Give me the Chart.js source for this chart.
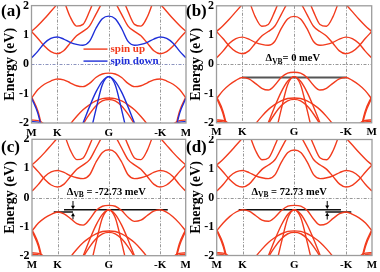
<!DOCTYPE html>
<html><head><meta charset="utf-8">
<script src="https://cdn.jsdelivr.net/npm/chart.js@4"></script>
<style>
html,body{margin:0;padding:0;background:#fff;}
#wrap{position:relative;width:380px;height:272px;overflow:hidden;background:#fff;}
.panel{position:absolute;width:190px;height:136px;}
.lbl{position:absolute;font:bold 17px "Liberation Serif",serif;line-height:17px;color:#000;}
</style></head><body>
<div id="wrap">
<div class="panel" style="left:0;top:0"><canvas id="ca" width="190" height="136"></canvas></div>
<div class="panel" style="left:190px;top:0"><canvas id="cb" width="190" height="136"></canvas></div>
<div class="panel" style="left:0;top:136px"><canvas id="cc" width="190" height="136"></canvas></div>
<div class="panel" style="left:190px;top:136px"><canvas id="cd" width="190" height="136"></canvas></div>
<div class="lbl" style="left:1px;top:2px">(a)</div>
<div class="lbl" style="left:186px;top:2px">(b)</div>
<div class="lbl" style="left:1px;top:138px">(c)</div>
<div class="lbl" style="left:186px;top:138px">(d)</div>
</div>
<script>
const _ = null;
// k-path positions (M=0, K=1, G=3, -K=5, M=6)
const kGrid = [0,0.25,0.5,0.75,1,1.25,1.5,1.75,2,2.25,2.5,2.75,3,3.25,3.5,3.75,4,4.25,4.5,4.75,5,5.25,5.5,5.75,6];
const kTicks = [0,1,3,5,6];
const kLabels = ['M','K','G','-K','M'];
const eTicks = [2,1,0,-1,-2];
const eLabels = ['2','1','0','-1','-2'];

// conduction bands (eV)
const cbA = [0.22,0.45,0.72,0.88,0.93,0.86,0.75,0.68,0.65,0.78,1.22,1.55,1.64,1.55,1.22,0.78,0.65,0.68,0.75,0.86,0.93,0.88,0.72,0.45,0.22];
const cbB = [1.12,0.88,0.62,0.43,0.36,0.46,0.72,0.97,1.12,1.30,1.70,2.10,2.35,2.10,1.70,1.30,1.12,0.97,0.72,0.46,0.36,0.43,0.62,0.88,1.12];
const cbC = [_,_,_,_,_,2.20,1.62,1.30,1.36,1.80,2.35,_,_,_,2.35,1.80,1.36,1.30,1.62,2.20,_,_,_,_,_];
const cbD = [1.12,1.32,1.55,1.80,2.05,2.30,_,_,_,_,_,_,_,_,_,_,_,_,_,2.30,2.05,1.80,1.55,1.32,1.12];

// top valence band per panel
const vb1a = [-1.15,-0.86,-0.68,-0.57,-0.50,-0.53,-0.63,-0.73,-0.76,-0.65,-0.45,-0.33,-0.30,-0.33,-0.45,-0.65,-0.76,-0.73,-0.63,-0.53,-0.50,-0.57,-0.68,-0.86,-1.15];
const vb1b = [-1.18,-0.90,-0.70,-0.55,-0.45,-0.50,-0.65,-0.82,-0.88,-0.72,-0.45,-0.30,-0.27,-0.30,-0.45,-0.72,-0.88,-0.82,-0.65,-0.50,-0.45,-0.55,-0.70,-0.90,-1.18];
const vb1c = [-1.15,-0.88,-0.70,-0.58,-0.50,-0.56,-0.72,-0.90,-0.95,-0.75,-0.45,-0.30,-0.27,-0.30,-0.45,-0.68,-0.82,-0.78,-0.62,-0.47,-0.42,-0.50,-0.66,-0.88,-1.15];
const vb1d = [-1.15,-0.88,-0.66,-0.50,-0.42,-0.47,-0.62,-0.78,-0.82,-0.68,-0.45,-0.30,-0.27,-0.30,-0.45,-0.75,-0.95,-0.90,-0.72,-0.56,-0.50,-0.58,-0.70,-0.88,-1.15];

// deeper valence bands
const vb2 = [_,_,_,_,_,_,_,_,_,-2.50,-1.55,-0.70,-0.42,-0.70,-1.55,-2.50,_,_,_,_,_,_,_,_,_];
const vb3 = [_,_,_,_,_,_,_,-2.50,-2.00,-1.45,-0.95,-0.58,-0.42,-0.58,-0.95,-1.45,-2.00,-2.50,_,_,_,_,_,_,_];
const vb4 = [_,_,_,_,_,-2.40,-2.05,-1.78,-1.55,-1.38,-1.25,-1.17,-1.15,-1.17,-1.25,-1.38,-1.55,-1.78,-2.05,-2.40,_,_,_,_,_];
const vb5 = [_,_,_,_,_,_,_,-2.50,-2.05,-1.70,-1.42,-1.25,-1.20,-1.25,-1.42,-1.70,-2.05,-2.50,_,_,_,_,_,_,_];
const vbM1 = [-1.10,-1.60,-2.50,_,_,_,_,_,_,_,_,_,_,_,_,_,_,_,_,_,_,_,-2.50,-1.60,-1.10];
const vbM2 = [-1.15,-1.68,-2.60,_,_,_,_,_,_,_,_,_,_,_,_,_,_,_,_,_,_,_,-2.60,-1.68,-1.15];
const vbF1 = [-1.90,-1.92,-2.05,-2.40,_,_,_,_,_,_,_,_,_,_,_,_,_,_,_,_,_,-2.40,-2.05,-1.92,-1.90];
const vbF2 = [-1.95,-1.97,-2.15,_,_,_,_,_,_,_,_,_,_,_,_,_,_,_,_,_,_,_,-2.15,-1.97,-1.95];

// valence-band splitting markers: [kStart, kEnd, energy]
const gapB = [[1, 5, -0.45]];
const gapC = [[1.25, 5.3, -0.42], [0.85, 1.6, -0.50]];
const gapD = [[0.85, 4.8, -0.42], [4.2, 5.2, -0.50]];
// arrows: [k, fromE, toE]
const arrowsC = [[1.6, -0.12, -0.40], [1.6, -0.75, -0.52]];
const arrowsD = [[4.27, -0.12, -0.40], [4.27, -0.76, -0.52]];
const deltaTexts = ['= 0 meV', ' = -72.73 meV', ' = 72.73 meV'];
const legendNames = ['spin up', 'spin down'];

const RED = '#f23b1d', BLUE = '#1e2ed8';
const FONT = '"Liberation Serif", "Times New Roman", serif';

function band(arr, color) {
  return {data: kGrid.map((k, i) => ({x: k, y: arr[i]})), borderColor: color, borderWidth: 1.4,
    pointRadius: 0, fill: false, cubicInterpolationMode: 'monotone', spanGaps: false};
}
function gapSets(gaps, color, w) {
  return gaps.map(g => ({data: [{x: g[0], y: g[2]}, {x: g[1], y: g[2]}], borderColor: color,
    borderWidth: w, pointRadius: 0, fill: false, tension: 0}));
}

const deco = {
  id: 'deco',
  beforeDatasetsDraw(chart, args, o) {
    const {ctx, chartArea: ca, scales: {x, y}} = chart;
    ctx.save();
    ctx.lineWidth = 0.9;
    ctx.setLineDash([3, 1.5, 1, 1.5]);
    ctx.strokeStyle = '#8c8c8c';
    [1, 3, 5].forEach(k => {
      const px = Math.round(x.getPixelForValue(k)) + 0.5;
      ctx.beginPath(); ctx.moveTo(px, ca.top); ctx.lineTo(px, ca.bottom); ctx.stroke();
    });
    ctx.strokeStyle = o.zeroColor || '#8c8c8c';
    const py = Math.round(y.getPixelForValue(0)) + 0.5;
    ctx.beginPath(); ctx.moveTo(ca.left, py); ctx.lineTo(ca.right, py); ctx.stroke();
    ctx.restore();
  },
  afterDatasetsDraw(chart, args, o) {
    const {ctx, chartArea: ca, scales: {x, y}} = chart;
    ctx.save();
    ctx.strokeStyle = '#9c9c9c'; ctx.lineWidth = 1.3;
    ctx.strokeRect(ca.left, ca.top, ca.right - ca.left, ca.bottom - ca.top);
    // axis tick labels
    ctx.fillStyle = '#000';
    ctx.font = 'bold 12px ' + FONT; ctx.textAlign = 'right'; ctx.textBaseline = 'middle';
    eTicks.forEach((v, i) => ctx.fillText(eLabels[i], ca.left - 2.5, y.getPixelForValue(v)));
    ctx.font = 'bold 11px ' + FONT; ctx.textAlign = 'center';
    kTicks.forEach((v, i) => ctx.fillText(kLabels[i], x.getPixelForValue(v), ca.bottom + o.xoff));
    // axis title
    ctx.save();
    ctx.translate(o.titleX, (ca.top + ca.bottom) / 2); ctx.rotate(-Math.PI / 2);
    ctx.font = 'bold 14px ' + FONT; ctx.textAlign = 'center'; ctx.textBaseline = 'middle';
    ctx.fillText('Energy (eV)', 0, 0);
    ctx.restore();
    // arrows
    (o.arrows || []).forEach(a => {
      const px = x.getPixelForValue(a[0]);
      const p0 = y.getPixelForValue(a[1]), p1 = y.getPixelForValue(a[2]);
      const dir = p1 > p0 ? 1 : -1;
      ctx.strokeStyle = '#000'; ctx.fillStyle = '#000'; ctx.lineWidth = 1;
      ctx.beginPath(); ctx.moveTo(px, p0); ctx.lineTo(px, p1 - dir * 2.5); ctx.stroke();
      ctx.beginPath(); ctx.moveTo(px, p1); ctx.lineTo(px - 2, p1 - dir * 3.5); ctx.lineTo(px + 2, p1 - dir * 3.5); ctx.closePath(); ctx.fill();
    });
    // delta text
    if (o.delta) {
      const cx = x.getPixelForValue(o.delta.k);
      const base = y.getPixelForValue(0) - 3;
      const big = 'bold 10.5px ' + FONT, small = 'bold 7.5px ' + FONT;
      ctx.fillStyle = '#000'; ctx.textBaseline = 'alphabetic'; ctx.textAlign = 'left';
      ctx.font = big; const w1 = ctx.measureText('\u0394').width; const w3 = ctx.measureText(o.delta.text).width;
      ctx.font = small; const w2 = ctx.measureText('VB').width;
      let sx = cx - (w1 + w2 + w3) / 2;
      ctx.font = big; ctx.fillText('\u0394', sx, base); sx += w1;
      ctx.font = small; ctx.fillText('VB', sx, base + 2.5); sx += w2;
      ctx.font = big; ctx.fillText(o.delta.text, sx, base);
    }
    // legend
    if (o.legend) {
      const cols = [RED, BLUE];
      const ys = [ca.top + 43.5, ca.top + 55.5];
      ctx.font = 'bold 11px ' + FONT; ctx.textBaseline = 'middle'; ctx.textAlign = 'left';
      legendNames.forEach((n, i) => {
        ctx.strokeStyle = cols[i]; ctx.lineWidth = 1.4;
        ctx.beginPath(); ctx.moveTo(ca.left + 52, ys[i]); ctx.lineTo(ca.left + 76, ys[i]); ctx.stroke();
        ctx.fillStyle = cols[i]; ctx.fillText(n, ca.left + 79, ys[i]);
      });
    }
    ctx.restore();
  }
};

function makeChart(id, datasets, geo, opts) {
  opts.xoff = geo.xoff; opts.titleX = geo.titleX;
  return new Chart(document.getElementById(id), {
    type: 'line',
    data: {datasets},
    plugins: [deco],
    options: {
      responsive: false, animation: false, devicePixelRatio: 1, events: [],
      layout: {autoPadding: false, padding: {left: geo.left, right: 190 - geo.right, top: geo.top, bottom: 136 - geo.bottom}},
      plugins: {legend: {display: false}, tooltip: {enabled: false}, deco: opts},
      scales: {
        x: {type: 'linear', min: 0, max: 6, display: false},
        y: {type: 'linear', min: -2, max: 2, display: false}
      }
    }
  });
}

const common = [cbA, cbB, cbC, cbD, vb2, vb3, vb4, vb5, vbM1, vbM2, vbF1, vbF2];

makeChart('ca', [
  band(cbA, BLUE), band(vb2, BLUE), band(vb3, BLUE), band(vbM2, BLUE), band(vbF2, BLUE),
  band(cbB, RED), band(cbC, RED), band(cbD, RED), band(vb1a, RED), band(vb4, RED), band(vb5, RED),
  band(vbM1, RED), band(vbF1, RED)
], {left: 31.5, right: 186, top: 5.6, bottom: 123, xoff: 9.7, titleX: 10.5}, {legend: true, zeroColor: '#7f88b8'});

makeChart('cb', common.concat([vb1b]).map(a => band(a, RED)).concat(gapSets(gapB, '#555', 2)),
  {left: 26.5, right: 181.7, top: 5.8, bottom: 122.8, xoff: 9.7, titleX: 6},
  {delta: {k: 2.95, text: deltaTexts[0]}});

makeChart('cc', common.concat([vb1c]).map(a => band(a, RED)).concat(gapSets(gapC, '#111', 1.5)),
  {left: 32, right: 185.7, top: 3.3, bottom: 119.7, xoff: 9.3, titleX: 10.5},
  {delta: {k: 2.9, text: deltaTexts[1]}, arrows: arrowsC});

makeChart('cd', common.concat([vb1d]).map(a => band(a, RED)).concat(gapSets(gapD, '#111', 1.5)),
  {left: 26.7, right: 182, top: 3.5, bottom: 119.5, xoff: 9.3, titleX: 6},
  {delta: {k: 2.8, text: deltaTexts[2]}, arrows: arrowsD});
</script>
</body></html>
